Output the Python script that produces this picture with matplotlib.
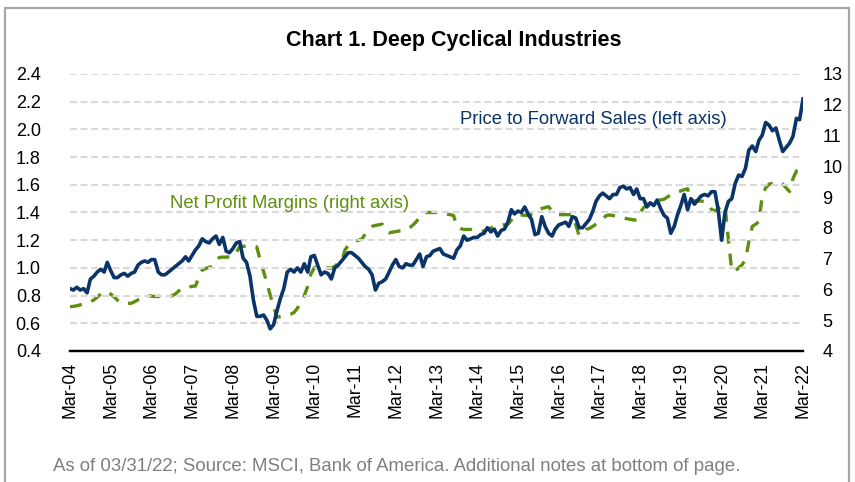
import pandas as pd
import matplotlib.pyplot as plt
import numpy as np
from matplotlib.patches import Rectangle

plt.rcParams["font.family"] = ["Liberation Sans", "DejaVu Sans"]

# monthly, Mar-04 .. Mar-22
dates = pd.date_range("2004-03-31", periods=217, freq="ME")

price_to_sales = [
    0.85, 0.84, 0.86, 0.84, 0.85, 0.82, 0.92, 0.94, 0.97, 0.99, 0.97, 1.04,
    0.98, 0.93, 0.93, 0.95, 0.96, 0.94, 0.96, 0.97, 1.02, 1.04, 1.05, 1.04,
    1.06, 1.06, 0.97, 0.95, 0.95, 0.97, 0.99, 1.01, 1.03, 1.05, 1.08, 1.05,
    1.09, 1.13, 1.16, 1.21, 1.19, 1.18, 1.21, 1.23, 1.17, 1.22, 1.12, 1.11,
    1.14, 1.18, 1.19, 1.07, 1.04, 0.94, 0.77, 0.65, 0.65, 0.66, 0.62, 0.56,
    0.59, 0.69, 0.78, 0.85, 0.97, 0.99, 0.97, 1.00, 0.97, 1.03, 0.97, 1.08,
    1.09, 1.02, 0.95, 0.97, 0.96, 0.92, 1.00, 1.02, 1.05, 1.08, 1.11, 1.11,
    1.09, 1.07, 1.04, 1.01, 0.99, 0.95, 0.84, 0.89, 0.90, 0.92, 0.97, 1.02,
    1.06, 1.01, 1.00, 1.03, 1.02, 1.02, 1.06, 1.10, 1.01, 1.08, 1.09, 1.12,
    1.13, 1.14, 1.10, 1.09, 1.08, 1.07, 1.13, 1.16, 1.23, 1.20, 1.21, 1.22,
    1.22, 1.24, 1.25, 1.29, 1.26, 1.28, 1.23, 1.27, 1.28, 1.33, 1.42, 1.39,
    1.41, 1.40, 1.44, 1.39, 1.35, 1.24, 1.25, 1.37, 1.30, 1.25, 1.23, 1.28,
    1.31, 1.32, 1.33, 1.30, 1.37, 1.36, 1.29, 1.29, 1.32, 1.35, 1.41, 1.48,
    1.52, 1.54, 1.52, 1.50, 1.53, 1.53, 1.58, 1.59, 1.57, 1.58, 1.53, 1.57,
    1.50, 1.50, 1.44, 1.47, 1.45, 1.49, 1.43, 1.38, 1.36, 1.25, 1.30, 1.38,
    1.45, 1.53, 1.42, 1.50, 1.46, 1.49, 1.52, 1.53, 1.52, 1.55, 1.55, 1.42,
    1.20, 1.40, 1.48, 1.50, 1.61, 1.67, 1.66, 1.72, 1.85, 1.88, 1.84, 1.92,
    1.96, 2.05, 2.03, 1.99, 2.01, 1.92, 1.84, 1.87, 1.90, 1.95, 2.08, 2.07,
    2.22,
]

net_margin = [
    5.44, 5.45, 5.47, 5.50, 5.52, 5.55, 5.60, 5.66, 5.75, 5.85, 5.93, 5.92,
    5.85, 5.76, 5.65, 5.57, 5.55, 5.55, 5.55, 5.60, 5.66, 5.71, 5.76, 5.80,
    5.78, 5.77, 5.77, 5.78, 5.78, 5.79, 5.79, 5.85, 5.95, 6.05, 6.07, 6.08,
    6.10, 6.11, 6.40, 6.63, 6.68, 6.72, 6.74, 6.90, 7.04, 7.05, 7.05, 7.06,
    7.06, 7.20, 7.40, 7.40, 7.40, 7.40, 7.40, 7.38, 6.96, 6.58, 6.20, 5.82,
    5.44, 5.10, 5.12, 5.15, 5.19, 5.20, 5.25, 5.39, 5.60, 5.80, 6.10, 6.50,
    6.70, 6.74, 6.72, 6.70, 6.70, 6.69, 6.75, 6.85, 6.90, 7.28, 7.45, 7.50,
    7.55, 7.60, 7.63, 7.80, 7.95, 8.05, 8.08, 8.10, 8.12, 7.90, 7.84, 7.86,
    7.88, 7.90, 7.90, 7.95, 8.00, 8.09, 8.20, 8.35, 8.48, 8.50, 8.50, 8.50,
    8.50, 8.48, 8.46, 8.45, 8.43, 8.40, 8.04, 7.98, 7.95, 7.95, 7.95, 7.92,
    7.90, 7.88, 7.90, 7.95, 8.00, 8.05, 8.07, 8.09, 8.10, 8.12, 8.25, 8.38,
    8.42, 8.42, 8.41, 8.40, 8.45, 8.55, 8.60, 8.63, 8.66, 8.69, 8.55, 8.45,
    8.43, 8.43, 8.43, 8.43, 8.42, 8.10, 7.75, 7.85, 7.95, 7.98, 8.05, 8.12,
    8.20, 8.30, 8.40, 8.42, 8.40, 8.38, 8.35, 8.33, 8.30, 8.28, 8.26, 8.25,
    8.50, 8.65, 8.75, 8.80, 8.85, 8.88, 8.91, 8.93, 9.00, 9.08, 9.12, 9.16,
    9.20, 9.24, 9.27, 8.89, 8.88, 8.87, 8.87, 8.86, 8.80, 8.60, 8.55, 8.62,
    8.70, 8.74, 7.60, 6.60, 6.60, 6.70, 6.80, 6.96, 7.55, 8.05, 8.12, 8.20,
    9.05, 9.30, 9.42, 9.45, 9.48, 9.50, 9.42, 9.30, 9.18, 9.60, 9.85, 9.86,
    9.87,
]

left_ticks = np.arange(0.4, 2.41, 0.2)
right_ticks = np.arange(4, 14, 1)
x_ticks = pd.date_range("2004-03-31", "2022-03-31", freq="12ME")

navy = "#0B3468"
green = "#5E8F0E"

fig = plt.figure(figsize=(8.55, 4.82), dpi=100)
ax = fig.add_axes([0.0819, 0.2718, 0.8573, 0.5747])

# grey frame around the whole chart
fig.patches.append(Rectangle((0.006, -0.02), 0.987, 1.003, transform=fig.transFigure,
                             fill=False, edgecolor="#A6A6A6", linewidth=1.6))

ax.set_ylim(0.4, 2.4)
ax.set_yticks(left_ticks)
ax.set_yticklabels([f"{t:.1f}" for t in left_ticks])
ax.set_xlim(dates[0], dates[-1])
ax.set_xticks(x_ticks)
ax.set_xticklabels([d.strftime("%b-%y") for d in x_ticks], rotation=90)

for t in left_ticks[1:]:
    ax.axhline(t, color="#D9D9D9", linewidth=1.5, dashes=(3.3, 1.8), zorder=0)

ax2 = ax.twinx()
ax2.set_ylim(4, 13)
ax2.set_yticks(right_ticks)

ax2.plot(dates, net_margin, color=green, linewidth=2.4, dashes=(3.6, 3.0),
         dash_capstyle="butt", zorder=2)
ax.set_zorder(ax2.get_zorder() + 1)
ax.patch.set_visible(False)
ax.plot(dates, price_to_sales, color=navy, linewidth=2.6, zorder=3)

for a in (ax, ax2):
    for s in ("top", "left", "right"):
        a.spines[s].set_visible(False)
    a.spines["bottom"].set_linewidth(1.6)
    a.tick_params(length=0, labelsize=13, colors="black")
ax.tick_params(axis="x", labelsize=12.7, pad=8)
ax.tick_params(axis="y", pad=21)
ax2.tick_params(axis="y", pad=14)

ax.text(0.532, 0.834, "Price to Forward Sales (left axis)", transform=ax.transAxes,
        color=navy, fontsize=13.3, va="center")
ax.text(0.136, 0.534, "Net Profit Margins (right axis)", transform=ax.transAxes,
        color=green, fontsize=13.3, va="center")

fig.text(0.531, 0.917, "Chart 1. Deep Cyclical Industries", ha="center", va="center",
         fontsize=15.5, fontweight="bold")
fig.text(0.062, 0.033, "As of 03/31/22; Source: MSCI, Bank of America. Additional notes at bottom of page.",
         color="#7F7F7F", fontsize=13.4, va="center")

fig.savefig("out.png", dpi=100)
